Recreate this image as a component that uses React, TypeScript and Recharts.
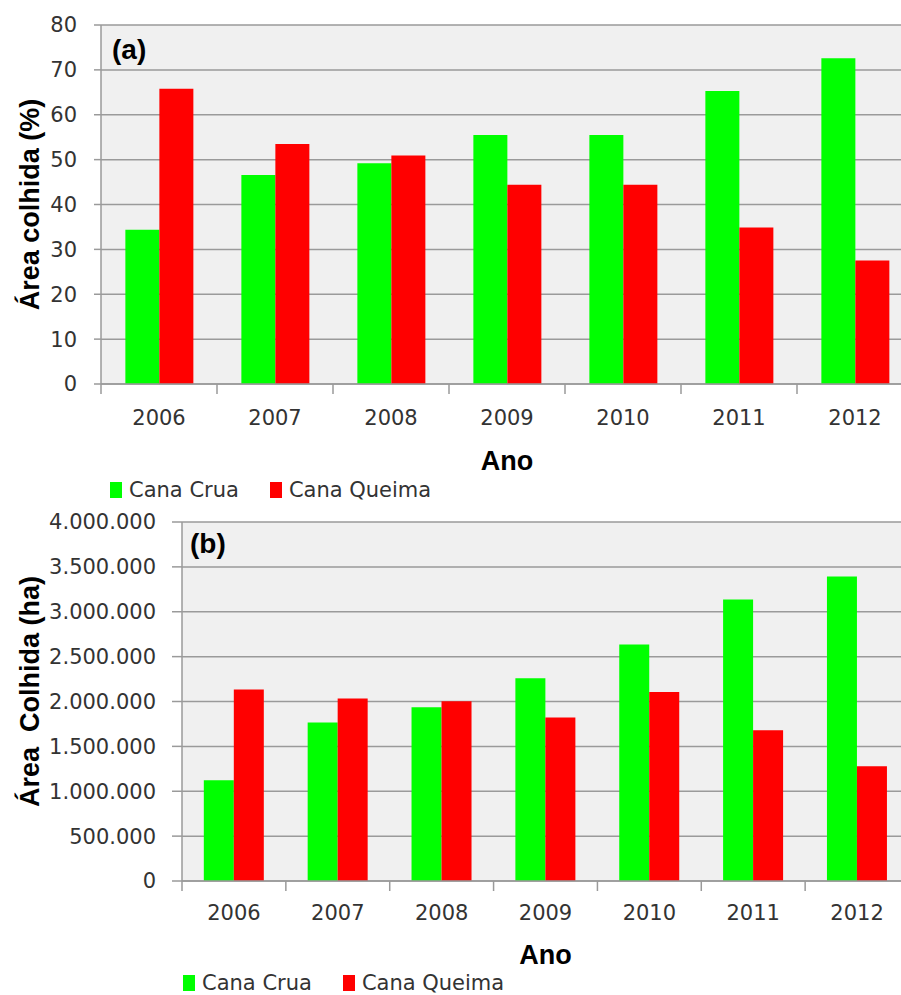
import { BarChart, Bar, XAxis, YAxis, CartesianGrid, Legend } from 'recharts';

const years = ['2006', '2007', '2008', '2009', '2010', '2011', '2012'];
const cruaPct = [34.4, 46.6, 49.2, 55.5, 55.5, 65.3, 72.6];
const queimaPct = [65.8, 53.5, 50.9, 44.4, 44.4, 34.9, 27.5];
const cruaHa = [1123000, 1766000, 1936000, 2260000, 2634000, 3137000, 3392000];
const queimaHa = [2134000, 2033000, 2003000, 1821000, 2107000, 1680000, 1279000];
const pctTicks = [0, 10, 20, 30, 40, 50, 60, 70, 80];
const haTicks = [0, 500000, 1000000, 1500000, 2000000, 2500000, 3000000, 3500000, 4000000];

const GREEN = '#00ff00';
const RED = '#ff0000';
const GRID = '#9a9a9a';
const TICK_FONT = '"DejaVu Sans", sans-serif';
const BOLD_FONT = '"Liberation Sans", Arial, sans-serif';

const pctData = years.map((y, i) => ({ ano: y, crua: cruaPct[i], queima: queimaPct[i] }));
const haData = years.map((y, i) => ({ ano: y, crua: cruaHa[i], queima: queimaHa[i] }));

const fmtHa = (v: number) => String(v).replace(/\B(?=(\d{3})+(?!\d))/g, '.');

function yearTick(band: number, labelDy: number) {
  return (props: any) => {
    const { x, y, payload } = props;
    const half = typeof payload?.offset === 'number' && payload.offset > 0 ? payload.offset : band / 2;
    return (
      <g>
        <line x1={x - half} x2={x - half} y1={y} y2={y + 10} stroke={GRID} strokeWidth={1.5} />
        <text x={x} y={y + labelDy} dy="0.35em" textAnchor="middle" fontFamily={TICK_FONT} fontSize={21} fill="#333">
          {payload.value}
        </text>
      </g>
    );
  };
}

function xTitle(dy: number) {
  return (props: any) => {
    const vb = props.viewBox || {};
    return (
      <text x={vb.x + vb.width / 2} y={vb.y + dy} dy="0.35em" textAnchor="middle"
        fontFamily={BOLD_FONT} fontWeight="bold" fontSize={27} fill="#000">
        Ano
      </text>
    );
  };
}

function yTitle(title: string, panel: string, shift: number, panelDx: number, panelDy: number) {
  return (props: any) => {
    const vb = props.viewBox || {};
    const cy = vb.y + vb.height / 2 + shift;
    return (
      <g>
        <text x={30} y={cy} dy="0.35em" textAnchor="middle" transform={`rotate(-90, 30, ${cy})`}
          fontFamily={BOLD_FONT} fontWeight="bold" fontSize={27} fill="#000" style={{ whiteSpace: 'pre' }}>
          {title}
        </text>
        <text x={vb.x + vb.width + panelDx} y={vb.y + panelDy}
          fontFamily={BOLD_FONT} fontWeight="bold" fontSize={28} fill="#000">
          {panel}
        </text>
      </g>
    );
  };
}

const legendContent = (props: any) => (
  <div style={{ display: 'flex', alignItems: 'center', height: 30, fontFamily: TICK_FONT, fontSize: 21, color: '#333' }}>
    {(props.payload || []).map((p: any, i: number) => (
      <div key={i} style={{ display: 'flex', alignItems: 'center', marginRight: 31 }}>
        <span style={{ display: 'inline-block', width: 12, height: 16, background: p.color, marginRight: 7 }} />
        <span>{p.value}</span>
      </div>
    ))}
  </div>
);

export default function App() {
  return (
    <div style={{ position: 'absolute', left: 0, top: 0, width: 901, height: 995, overflow: 'hidden', background: '#fff' }}>
      <div style={{ position: 'absolute', left: 0, top: 0 }}>
        <BarChart width={915} height={505} data={pctData} margin={{ top: 25, right: 2, left: 0, bottom: 0 }}
          barCategoryGap="21%" barGap={0}>
          <CartesianGrid vertical={false} stroke={GRID} strokeWidth={1.5} fill="#f0f0f0" />
          <XAxis dataKey="ano" height={91} tickSize={0} tickMargin={0} interval={0}
            axisLine={{ stroke: GRID, strokeWidth: 1.5 }} tickLine={false}
            tick={yearTick(116, 34)} label={xTitle(77)} />
          <YAxis width={101} domain={[0, 80]} ticks={pctTicks} interval={0} tickSize={7} tickMargin={17}
            axisLine={{ stroke: GRID, strokeWidth: 1.5 }} tickLine={{ stroke: GRID, strokeWidth: 1.5 }}
            tick={{ fontFamily: TICK_FONT, fontSize: 21, fill: '#333' }}
            label={yTitle('Área colhida (%)', '(a)', 0, 11, 34)} />
          <Legend verticalAlign="bottom" align="left" content={legendContent}
            wrapperStyle={{ left: 110, bottom: 0 }} />
          <Bar dataKey="crua" name="Cana Crua" fill={GREEN} isAnimationActive={false} />
          <Bar dataKey="queima" name="Cana Queima" fill={RED} isAnimationActive={false} />
        </BarChart>
      </div>
      <div style={{ position: 'absolute', left: 0, top: 500 }}>
        <BarChart width={911} height={495} data={haData} margin={{ top: 22, right: 2, left: 0, bottom: 0 }}
          barCategoryGap="21%" barGap={0}>
          <CartesianGrid vertical={false} stroke={GRID} strokeWidth={1.5} fill="#f0f0f0" />
          <XAxis dataKey="ano" height={84} tickSize={0} tickMargin={0} interval={0}
            axisLine={{ stroke: GRID, strokeWidth: 1.5 }} tickLine={false}
            tick={yearTick(103.9, 32)} label={xTitle(74)} />
          <YAxis width={182} domain={[0, 4000000]} ticks={haTicks} interval={0} tickSize={10} tickMargin={16}
            tickFormatter={fmtHa}
            axisLine={{ stroke: GRID, strokeWidth: 1.5 }} tickLine={{ stroke: GRID, strokeWidth: 1.5 }}
            tick={{ fontFamily: TICK_FONT, fontSize: 21, fill: '#333' }}
            label={yTitle('Área  Colhida (ha)', '(b)', -10, 8, 31)} />
          <Legend verticalAlign="bottom" align="left" content={legendContent}
            wrapperStyle={{ left: 183, bottom: -3 }} />
          <Bar dataKey="crua" name="Cana Crua" fill={GREEN} isAnimationActive={false} />
          <Bar dataKey="queima" name="Cana Queima" fill={RED} isAnimationActive={false} />
        </BarChart>
      </div>
    </div>
  );
}
